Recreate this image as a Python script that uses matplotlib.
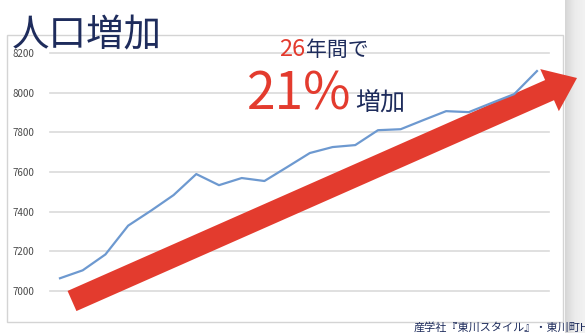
import numpy as np
import matplotlib.pyplot as plt
from matplotlib.patches import FancyArrow, Rectangle
from matplotlib.transforms import Affine2D

plt.rcParams['font.family'] = ['Noto Sans CJK JP', 'DejaVu Sans']

# 人口 (人) - 読み取り値
population = [7065, 7105, 7185, 7330, 7405, 7484, 7590, 7534, 7570, 7555, 7625,
              7696, 7726, 7736, 7811, 7816, 7862, 7907, 7902, 7948, 7993, 8109]
points = np.arange(len(population))
yticks = [7000, 7200, 7400, 7600, 7800, 8000, 8200]

title = "人口増加"
span_num, span_txt = "26", "年間で"
rate_num, rate_txt = "21%", "増加"
source = "産学社『東川スタイル』・東川町HPより"

W, H = 585, 333
navy = "#1e2c5c"
red = "#e33b2e"

fig = plt.figure(figsize=(W / 100, H / 100), dpi=100)
fig.patch.set_facecolor("white")
# ピクセル座標 (左上原点)
px = Affine2D().scale(1 / W, -1 / H).translate(0, 1) + fig.transFigure

# 右端の影
bg = fig.add_axes([565 / W, 0, 20 / W, 1], zorder=-2)
grad = np.linspace(0, 1, 50).reshape(1, -1)
bg.imshow(grad, cmap=plt.matplotlib.colors.LinearSegmentedColormap.from_list(
    "sh", ["#d6d6d6", "#ececec", "#f2f2f2"]), aspect="auto", extent=[0, 1, 0, 1])
bg.axis("off")

# 枠
frame = Rectangle((7, 35), 556, 287, transform=px, facecolor="none",
                  edgecolor="#d4d4d4", lw=1, zorder=-1)
fig.add_artist(frame)

# グラフ本体
ax = fig.add_axes([50 / W, 1 - 311 / H, 499 / W, 258 / H], zorder=1)
ax.set_facecolor("none")
ax.set_xlim(-0.44, 21.53)
ax.set_ylim(6900, 8200)
ax.set_yticks(yticks)
ax.set_xticks([])
ax.tick_params(axis="y", length=0, pad=11, labelsize=7, labelcolor="#4a4a4a")
for s in ax.spines.values():
    s.set_visible(False)
for v in yticks:
    ax.axhline(v, color="#dadada", lw=1.2, zorder=0, clip_on=False)

# 赤い矢印
arrow = FancyArrow(72, 301, 505, -223, width=22, head_width=46, head_length=30,
                   length_includes_head=True, transform=px, color=red,
                   lw=0, clip_on=False, zorder=2)
ax.add_artist(arrow)

ax.plot(points, population, color="#6d99d0", lw=1.6, zorder=3)

# テキスト
fig.text(12, 46, title, transform=px, fontsize=27, color=navy, va="baseline")
fig.text(305, 56, span_num, transform=px, fontsize=17, color=red, ha="right", va="baseline")
fig.text(306, 56, span_txt, transform=px, fontsize=15, color=navy, ha="left", va="baseline")
fig.text(351, 110, rate_num, transform=px, fontsize=37, color=red, ha="right", va="baseline")
fig.text(355, 110, rate_txt, transform=px, fontsize=18, color=navy, ha="left", va="baseline")
fig.text(414, 322, source, transform=px, fontsize=8, color=navy, ha="left", va="top")

fig.savefig("out.png", dpi=100)
